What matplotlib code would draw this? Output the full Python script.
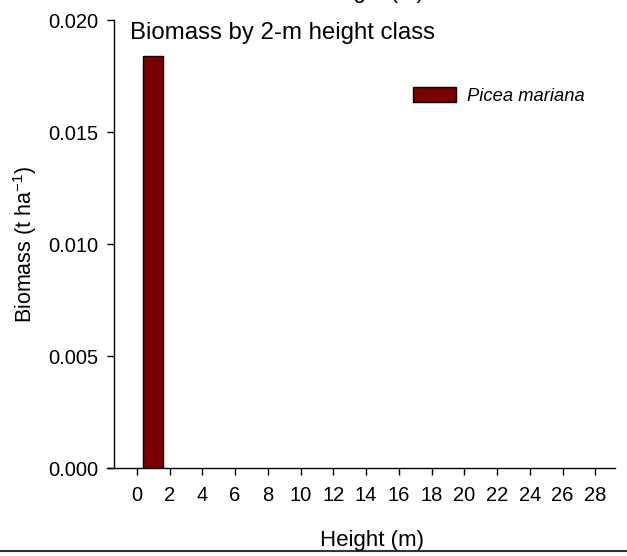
import matplotlib
matplotlib.use("Agg")
import matplotlib.pyplot as plt
from matplotlib.lines import Line2D

plt.rcParams['font.family'] = ['Liberation Sans', 'DejaVu Sans']
plt.rcParams['mathtext.fontset'] = 'custom'
plt.rcParams['mathtext.rm'] = 'Liberation Sans'
plt.rcParams['mathtext.it'] = 'Liberation Sans:italic'

heights = [1]
biomass = [0.01840]
species = "Picea mariana"
xticks = list(range(0, 30, 2))
yticks = [0.000, 0.005, 0.010, 0.015, 0.020]

W, H = 627, 556
fig = plt.figure(figsize=(W / 100, H / 100), dpi=100)
ax = fig.add_axes([107 / W, 1 - 468 / H, (615 - 107) / W, (468 - 20) / H])

ax.bar(heights, biomass, width=1.2, color='#7a0000', edgecolor='black',
       linewidth=1.0, label=species, zorder=3)

ax.set_xlim(-1.82, 29.2)
ax.set_ylim(0, 0.020)
ax.set_xticks(xticks)
ax.set_yticks(yticks)
ax.set_yticklabels([f"{v:.3f}" for v in yticks])

for s in ['top', 'right']:
    ax.spines[s].set_visible(False)
ax.spines['left'].set_position(('data', -1.39))
ax.spines['left'].set_linewidth(1.0)
ax.spines['bottom'].set_linewidth(1.0)

ax.tick_params(axis='both', direction='out', length=5, width=1, labelsize=14.5)
ax.tick_params(axis='x', pad=8)
ax.tick_params(axis='y', pad=6)

ax.set_ylabel("Biomass (t ha$^{-1}$)", fontsize=15.5)
ax.yaxis.set_label_coords((39 - 107) / (615 - 107), 0.5)

fig.text(372 / W, 1 - 546 / H, "Height (m)", ha='center', va='baseline', fontsize=16)

fig.text(130 / W, 1 - 33 / H, "Biomass by 2-m height class", fontsize=17.3,
         va='center', ha='left')

leg = ax.legend(loc='upper left', bbox_to_anchor=(398 / W, 1 - 72 / H),
                bbox_transform=fig.transFigure, frameon=False,
                prop={'style': 'italic', 'size': 13.2}, handlelength=2.35,
                handleheight=0.9, handletextpad=0.6, borderpad=0.3)

# remnant of previous panel's x-label cut at the top
fig.text(372 / W, 1 + 2 / H, "Height (m)", ha='center', va='baseline', fontsize=16)
# bottom separator line
fig.add_artist(Line2D([0, 1], [1 - 551 / H, 1 - 551 / H], transform=fig.transFigure,
                      color='#333333', linewidth=1.5))

fig.savefig("out.png", dpi=100)
